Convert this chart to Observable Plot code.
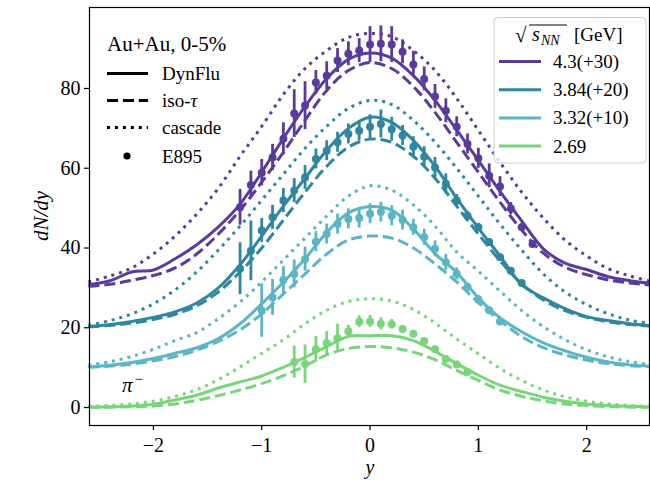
<!DOCTYPE html>
<html><head><meta charset="utf-8">
<script src="https://cdn.jsdelivr.net/npm/d3@7"></script>
<script src="https://cdn.jsdelivr.net/npm/@observablehq/plot@0.6"></script>
<style>body{margin:0;background:#fff}#chart{width:650px;height:483px}</style>
</head><body><div id="chart"></div>
<script>
const energies = ["4.3", "3.84", "3.32", "2.69"];
const energyLabels = ["4.3(+30)", "3.84(+20)", "3.32(+10)", "2.69"];
const offsets = [30, 20, 10, 0];
const colors = ["#5a3b9c", "#2f869f", "#5bb5c3", "#78d67a"];
const modelNames = ["DynFlu", "iso-τ", "cascade"];
const xTicks = [-2, -1, 0, 1, 2];
const yTicks = [0, 20, 40, 60, 80];

const yGrid = [-2.6,-2.4,-2.2,-2.0,-1.8,-1.6,-1.4,-1.2,-1.0,-0.8,-0.6,-0.4,-0.2,0,0.2,0.4,0.6,0.8,1.0,1.2,1.4,1.6,1.8,2.0,2.2,2.4,2.6];

// 4.3 GeV
const dynflu43  = [0.8,1.8,4.0,4.5,7.3,10.8,15.3,21.0,29.0,37.5,45.5,52.5,57.3,58.9,57.6,53.2,47.0,39.6,32.0,24.2,16.8,9.8,6.2,4.6,2.8,1.8,1.1];
const iso43     = [0.4,0.9,1.9,3.1,5.0,8.5,13.5,19.5,26.5,34.0,42.0,49.5,54.5,56.5,55.0,50.5,44.0,36.5,29.0,21.5,14.5,8.7,5.2,3.3,2.0,1.2,0.7];
const cascade43 = [1.5,3.0,5.0,8.5,13.0,18.5,25.0,33.0,40.5,48.5,55.0,59.5,62.8,63.8,63.0,59.5,54.5,47.5,39.5,31.5,24.0,17.5,12.0,8.0,4.8,3.0,1.6];
// 3.84 GeV
const dynflu384  = [0.3,0.8,1.6,2.6,4.0,6.2,10.0,15.8,23.0,30.5,37.5,44.5,50.0,52.8,51.5,47.0,40.5,32.5,25.0,18.0,10.8,7.5,4.8,2.8,1.8,1.0,0.5];
const iso384     = [0.2,0.6,1.2,2.1,3.4,5.5,9.0,14.0,20.0,27.0,34.0,40.5,45.3,47.3,46.5,43.0,37.5,30.5,23.5,16.8,11.0,7.0,4.3,2.6,1.5,0.8,0.4];
const cascade384 = [0.6,1.8,3.5,6.0,9.5,14.0,19.5,25.5,32.0,38.5,45.0,50.5,55.0,57.0,56.0,52.0,46.5,40.0,33.0,26.0,19.5,13.5,9.0,5.8,3.5,1.9,1.0];
// 3.32 GeV
const dynflu332  = [0.2,0.6,1.3,2.3,3.6,5.0,7.3,11.0,16.0,21.4,27.3,33.9,38.8,40.4,39.5,34.8,28.6,23.9,17.5,12.5,9.0,6.2,4.2,2.6,1.4,0.7,0.3];
const iso332     = [0.1,0.4,0.9,1.7,2.8,4.4,6.6,9.5,13.5,18.5,23.5,28.5,32.0,33.0,32.5,30.0,26.0,21.5,16.3,11.8,7.8,5.0,3.2,1.9,1.0,0.5,0.2];
const cascade332 = [0.6,1.5,2.8,4.6,6.8,8.8,12.3,16.5,21.5,27.0,32.5,38.0,43.0,45.6,44.5,40.8,35.5,29.0,24.2,19.2,14.3,10.3,7.0,4.5,2.7,1.5,0.7];
// 2.69 GeV
const dynflu269  = [0.1,0.2,0.4,0.8,1.9,3.1,4.9,6.4,7.9,10.1,12.6,15.3,17.8,18.0,18.0,16.8,14.1,11.0,8.1,5.6,4.0,2.6,1.6,0.9,0.5,0.3,0.15];
const iso269     = [0.05,0.1,0.2,0.4,0.9,1.8,3.0,4.4,6.0,8.0,10.4,13.2,14.8,15.3,15.0,13.9,12.0,9.3,6.8,4.4,2.8,1.7,0.9,0.5,0.25,0.1,0.05];
const cascade269 = [0.3,0.5,0.9,1.6,2.8,4.5,7.0,10.2,13.6,17.0,21.0,24.4,26.6,27.3,26.7,24.6,21.2,17.2,13.5,9.8,6.8,4.4,2.7,1.6,0.9,0.5,0.3];

// E895 data
const e895Y43   = [-1.2,-1.1,-1.0,-0.9,-0.8,-0.7,-0.6,-0.5,-0.4,-0.3,-0.2,-0.1,0,0.1,0.2,0.3,0.4,0.5,0.6,0.7,0.8,0.9,1.0,1.1,1.2,1.3,1.4,1.5];
const e895V43   = [20.2,25.8,28.9,32.7,37.4,43.7,45.7,51.5,53.2,57.0,58.7,59.5,61.0,61.2,61.0,59.2,56.0,52.4,48.0,44.4,40.4,36.1,32.5,28.1,25.4,19.9,15.2,11.0];
const e895E43   = [4.5,3.5,3.3,3.3,4.0,6.0,6.0,3.0,3.5,3.0,3.0,3.0,4.5,4.5,4.5,3.0,3.3,3.0,3.0,3.0,2.5,2.5,2.5,3.0,2.5,1.5,1.0,0.8];
const e895Y384  = [-1.2,-1.1,-1.0,-0.9,-0.8,-0.7,-0.6,-0.5,-0.4,-0.3,-0.2,-0.1,0,0.1,0.2,0.3,0.4,0.5,0.6,0.7,0.8,0.9,1.0,1.1,1.2,1.3,1.4];
const e895V384  = [14.8,19.3,24.4,27.7,31.9,34.4,37.7,42.3,44.4,46.5,48.6,49.4,50.4,51.1,49.8,48.2,45.4,42.9,40.2,36.1,31.9,28.1,25.2,21.5,17.7,14.3,11.2];
const e895E384  = [6.5,7.5,3.0,3.0,3.0,3.0,3.0,2.5,2.5,2.5,2.5,2.5,3.0,3.5,3.0,2.5,2.5,2.5,2.5,2.5,1.5,1.0,1.0,0.8,0.8,0.8,0.8];
const e895Y332  = [-1.0,-0.9,-0.8,-0.7,-0.6,-0.5,-0.4,-0.3,-0.2,-0.1,0,0.1,0.2,0.3,0.4,0.5,0.6,0.7,0.8,0.9,1.0,1.1,1.2];
const e895V332  = [14.3,17.6,22.0,23.5,27.2,31.6,33.5,36.0,37.3,37.5,38.6,39.0,38.1,37.0,35.2,32.7,29.8,26.4,23.5,20.2,17.1,14.4,11.6];
const e895E332  = [6.7,4.5,3.3,3.5,3.0,2.5,2.5,2.5,2.5,2.5,2.5,2.5,2.5,2.5,2.0,2.0,2.0,2.0,1.5,1.0,1.0,0.8,0.8];
const e895Y269  = [-0.7,-0.6,-0.5,-0.4,-0.3,-0.2,-0.1,0,0.1,0.2,0.3,0.4,0.5,0.6,0.7,0.8,0.9];
const e895V269  = [11.4,10.9,14.6,16.1,17.4,19.1,21.5,21.6,21.0,20.9,19.7,18.5,16.7,14.6,12.2,10.8,8.9];
const e895E269  = [4.0,4.8,3.2,3.0,3.5,1.5,1.5,1.5,1.5,1.2,0.8,0.8,0.8,0.8,0.8,0.8,0.8];

const modelSeries = [
  [dynflu43, dynflu384, dynflu332, dynflu269],
  [iso43, iso384, iso332, iso269],
  [cascade43, cascade384, cascade332, cascade269]
];
const dataSeries = [
  [e895Y43, e895V43, e895E43],
  [e895Y384, e895V384, e895E384],
  [e895Y332, e895V332, e895E332],
  [e895Y269, e895V269, e895E269]
];

const modelRows = [];
modelSeries.forEach((series, m) => series.forEach((vals, i) => vals.forEach((v, j) =>
  modelRows.push({model: modelNames[m], energy: energies[i], y: yGrid[j], v: v + offsets[i]}))));
const dataRows = [];
dataSeries.forEach(([ys, vs, es], i) => ys.forEach((y, j) =>
  dataRows.push({energy: energies[i], y, v: vs[j] + offsets[i], err: es[j]})));

const SERIF = "Liberation Serif, serif";
const dashes = {"DynFlu": null, "iso-τ": "11.1,4.8", "cascade": "3,4.95"};
const fmt = d => d < 0 ? "\u2212" + Math.abs(d) : String(d);

const lineMark = name => Plot.line(modelRows.filter(d => d.model === name), {
  x: "y", y: "v", z: "energy", stroke: "energy", strokeWidth: 3,
  strokeDasharray: dashes[name], curve: "catmull-rom", strokeLinecap: "butt"
});

const chart = Plot.plot({
  width: 650, height: 483,
  marginLeft: 89, marginRight: 1, marginTop: 7, marginBottom: 58,
  x: {domain: [-2.59, 2.58]},
  y: {domain: [-4.5, 100.3]},
  color: {domain: energies, range: colors},
  style: {fontFamily: SERIF, fontSize: "20px", color: "#000", background: "#fff"},
  marks: [
    lineMark("cascade"),
    lineMark("iso-τ"),
    lineMark("DynFlu"),
    Plot.ruleX(dataRows, {x: "y", y1: d => d.v - d.err, y2: d => d.v + d.err, stroke: "energy", strokeWidth: 2.8}),
    Plot.dot(dataRows, {x: "y", y: "v", fill: "energy", r: 4}),
    Plot.frame({stroke: "#000", strokeWidth: 1.2}),
    Plot.axisX({ticks: xTicks, tickFormat: fmt, tickSize: 5, tickPadding: 7, fontSize: 20, fontFamily: SERIF, label: null, strokeWidth: 1.2}),
    Plot.axisY({ticks: yTicks, tickFormat: fmt, tickSize: 5, tickPadding: 4, fontSize: 20, fontFamily: SERIF, label: null, strokeWidth: 1.2})
  ]
});
document.getElementById("chart").appendChild(chart);

const svg = d3.select(chart);
const g = svg.append("g").attr("font-family", SERIF).attr("fill", "#000").attr("text-anchor", "start");
const txt = (x, y, size) => g.append("text").attr("x", x).attr("y", y).attr("font-size", size)
  .attr("text-anchor", "start").style("font-family", SERIF);

// axis labels
txt(370, 474, 20).attr("text-anchor", "middle").attr("font-style", "italic").text("y");
g.append("text").attr("transform", "translate(48,216) rotate(-90)").attr("text-anchor", "middle")
  .style("font-family", SERIF).attr("font-style", "italic").attr("font-size", 21).text("dN/dy");
// pi- annotation
const pi = txt(122, 392, 21).attr("font-style", "italic");
pi.append("tspan").text("π");
pi.append("tspan").attr("dy", -8).attr("dx", 2).attr("font-size", 15).attr("font-style", "normal").text("−");

// left legend (models)
txt(107, 51, 21).text("Au+Au, 0-5%");
const leftRows = [["DynFlu", null, 73.5], ["iso-τ", "11.1,4.8", 100.5], ["cascade", "3,4.95", 127.5]];
leftRows.forEach(([label, dash, y]) => {
  g.append("line").attr("x1", 107).attr("x2", 148).attr("y1", y).attr("y2", y)
    .attr("stroke", "#000").attr("stroke-width", 3).attr("stroke-dasharray", dash);
  const t = txt(162, y + 6.5, 19);
  if (label === "iso-τ") { t.append("tspan").text("iso-"); t.append("tspan").attr("font-style", "italic").text("τ"); }
  else t.text(label);
});
g.append("circle").attr("cx", 127).attr("cy", 156).attr("r", 3.6).attr("fill", "#000");
txt(162, 162.5, 19).text("E895");

// right legend (energies)
g.append("rect").attr("x", 494).attr("y", 17.5).attr("width", 152).attr("height", 145.5).attr("rx", 4)
  .attr("fill", "#fff").attr("fill-opacity", 0.8).attr("stroke", "#cccccc").attr("stroke-width", 1);
txt(515, 42, 21).text("√");
g.append("line").attr("x1", 529).attr("x2", 567).attr("y1", 25).attr("y2", 25).attr("stroke", "#000").attr("stroke-width", 1);
txt(532, 41, 20).attr("font-style", "italic").text("s");
txt(541, 45, 14).attr("font-style", "italic").text("NN");
txt(574, 41, 19).text("[GeV]");
energyLabels.forEach((label, i) => {
  const y = 61.5 + i * 28.2;
  g.append("line").attr("x1", 499).attr("x2", 541).attr("y1", y).attr("y2", y)
    .attr("stroke", colors[i]).attr("stroke-width", 3);
  txt(553, y + 6.5, 19).text(label);
});
</script>
</body></html>
